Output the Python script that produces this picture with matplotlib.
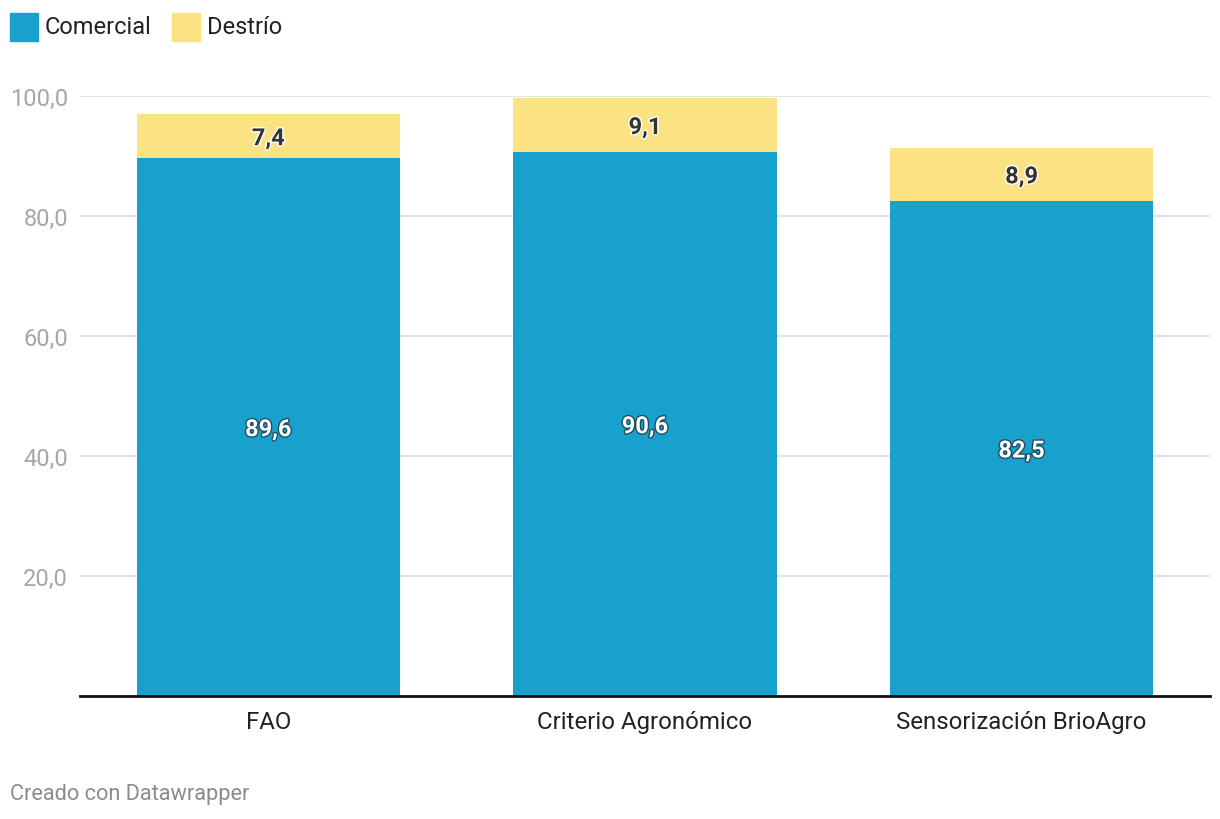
import matplotlib.pyplot as plt
import matplotlib.patheffects as pe
from matplotlib.patches import Rectangle

plt.rcParams['font.family'] = ['Roboto', 'DejaVu Sans']

categories = ["FAO", "Criterio Agronómico", "Sensorización BrioAgro"]
comercial = [89.6, 90.6, 82.5]
destrio = [7.4, 9.1, 8.9]
series_names = ["Comercial", "Destrío"]
yticks = [20, 40, 60, 80, 100]
ytick_labels = ["20,0", "40,0", "60,0", "80,0", "100,0"]

BLUE = "#19a1cd"
YELLOW = "#fbe384"


def fmt(v):
    return f"{v:.1f}".replace(".", ",")


fig = plt.figure(figsize=(12.2, 8.2), dpi=100)
ax = fig.add_axes([80 / 1220, 1 - 697 / 820, 1130 / 1220, 600 / 820])

x = list(range(len(categories)))
ax.bar(x, comercial, width=0.7, color=BLUE, zorder=2)
ax.bar(x, destrio, width=0.7, bottom=comercial, color=YELLOW, zorder=2)

for xi, c, d in zip(x, comercial, destrio):
    ax.text(xi, c / 2, fmt(c), ha="center", va="center_baseline", color="white",
            fontsize=17, fontweight="bold", zorder=3,
            path_effects=[pe.withStroke(linewidth=2, foreground="#1d4f60")])
    ax.text(xi, c + d / 2, fmt(d), ha="center", va="center_baseline",
            color="#333333", fontsize=17, fontweight="bold", zorder=3,
            path_effects=[pe.withStroke(linewidth=2, foreground="white")])

ax.set_xlim(-0.5, 2.5)
ax.set_ylim(0, 100)
ax.set_yticks(yticks)
ax.set_yticklabels(ytick_labels)
ax.set_xticks(x)
ax.set_xticklabels(categories)
ax.tick_params(axis="y", length=0, labelsize=17, labelcolor="#a6a6a6", pad=8.5)
ax.tick_params(axis="x", length=0, labelsize=17.3, labelcolor="#222222", pad=10)
ax.grid(axis="y", color="#e3e3e3", linewidth=1.5, zorder=0)
for s in ["top", "right", "left"]:
    ax.spines[s].set_visible(False)
ax.spines["bottom"].set_color("#111111")
ax.spines["bottom"].set_linewidth(2)
ax.spines["bottom"].set_zorder(4)

# legenda manual no topo
for i, (name, col) in enumerate(zip(series_names, [BLUE, YELLOW])):
    x0 = [10, 172][i]
    fig.patches.append(Rectangle((x0 / 1220, 1 - 42 / 820), 28 / 1220, 28 / 820,
                                 transform=fig.transFigure, color=col))
    fig.text((x0 + 35) / 1220, 1 - 27 / 820, name, fontsize=17, color="#222222",
             va="center", ha="left")

fig.text(10 / 1220, 1 - 795 / 820, "Creado con Datawrapper", fontsize=15.7,
         color="#8c8c8c", va="center", ha="left")

fig.savefig("out.png", dpi=100)
